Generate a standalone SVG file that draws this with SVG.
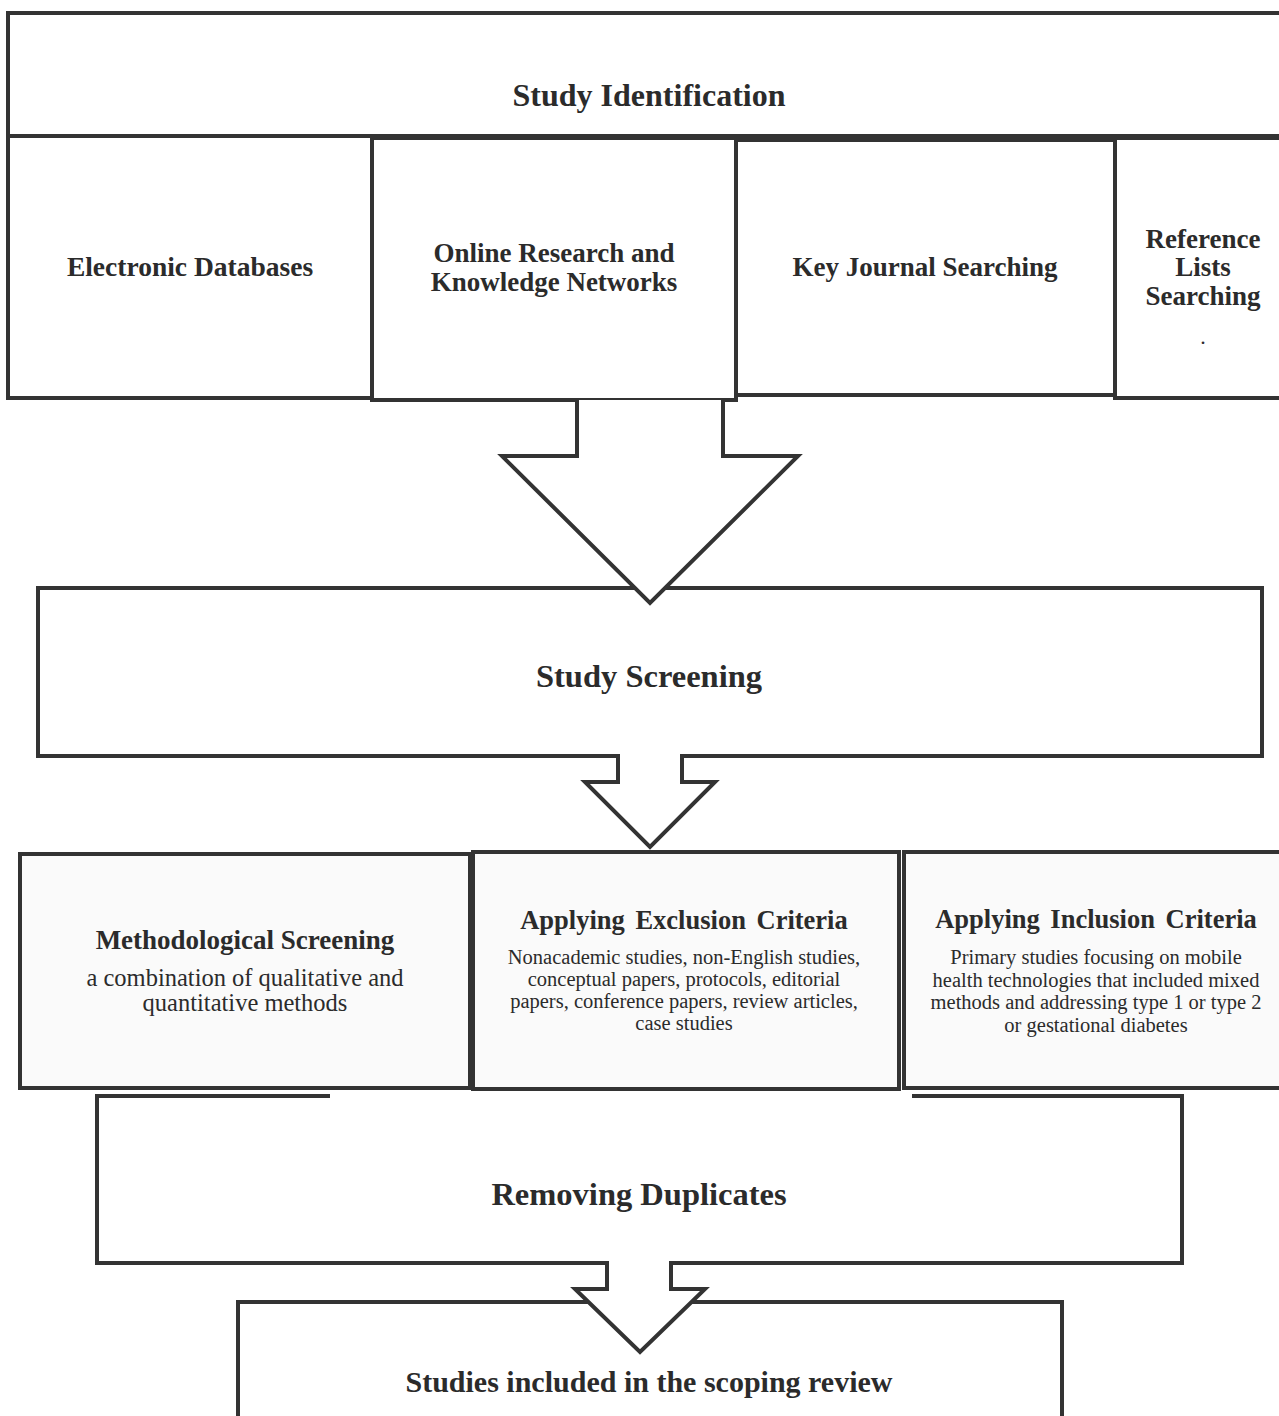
<svg xmlns="http://www.w3.org/2000/svg" width="1279" height="1416" viewBox="0 0 1279 1416">
<style>
.box{fill:#fff;stroke:#333;stroke-width:4}
.gbox{fill:#fafafa;stroke:#333;stroke-width:4}
.edge{fill:none;stroke:#333;stroke-width:4;stroke-linecap:square}
.arr{fill:#fff;stroke:#333;stroke-width:4;stroke-linejoin:miter;stroke-linecap:square}
text{font-family:"Liberation Serif","Times New Roman",serif;fill:#2b2b2b;text-anchor:middle}
.b{font-weight:bold}
.s{font-size:20.5px}
</style>
<rect width="1279" height="1416" fill="#fff"/>

<g id="study-identification">
<rect class="box" x="8" y="13" width="1300" height="123"/>
<text class="b" x="649" y="106" font-size="32">Study Identification</text>
</g>
<g id="electronic-databases">
<rect class="box" x="8" y="136" width="364" height="262"/>
<text class="b" x="190" y="276" font-size="27.5">Electronic Databases</text>
</g>
<g id="online-research">
<rect class="box" x="372" y="138" width="364" height="262"/>
<text class="b" x="554" y="262" font-size="27">Online Research and</text>
<text class="b" x="554" y="291" font-size="27">Knowledge Networks</text>
</g>
<g id="key-journal">
<rect class="box" x="736" y="140" width="379" height="255"/>
<text class="b" x="925" y="276" font-size="27">Key Journal Searching</text>
</g>
<g id="reference-lists">
<rect class="box" x="1115" y="138" width="200" height="260"/>
<text class="b" x="1203" y="248" font-size="27">Reference</text>
<text class="b" x="1203" y="276" font-size="27">Lists</text>
<text class="b" x="1203" y="305" font-size="27">Searching</text>
<text x="1203" y="344" font-size="22">.</text>
</g>

<g id="study-screening">
<rect x="38" y="588" width="1224" height="168" fill="#fff"/>
<path class="edge" d="M618 756 H38 V588 H1262 V756 H682"/>
<text class="b" x="649" y="687" font-size="32.5">Study Screening</text>
</g>

<g id="methodological-screening">
<rect class="gbox" x="20" y="854" width="450" height="234"/>
<text class="b" x="245" y="949" font-size="27">Methodological Screening</text>
<text x="245" y="986" font-size="24.5">a combination of qualitative  and</text>
<text x="245" y="1011" font-size="24.5">quantitative  methods</text>
</g>
<g id="exclusion-criteria">
<rect class="gbox" x="473" y="852" width="426" height="237"/>
<text class="b" x="684" y="929" font-size="26.5" word-spacing="4">Applying Exclusion Criteria</text>
<text class="s" x="684" y="964">Nonacademic studies, non-English studies,</text>
<text class="s" x="684" y="986">conceptual papers, protocols, editorial</text>
<text class="s" x="684" y="1008">papers, conference papers, review articles,</text>
<text class="s" x="684" y="1030">case studies</text>
</g>
<g id="inclusion-criteria">
<rect class="gbox" x="904" y="852" width="400" height="236"/>
<text class="b" x="1096" y="928" font-size="26.5" word-spacing="4">Applying Inclusion Criteria</text>
<text class="s" x="1096" y="964">Primary studies focusing on mobile</text>
<text class="s" x="1096" y="987">health technologies that included mixed</text>
<text class="s" x="1096" y="1009">methods and addressing type 1 or type 2</text>
<text class="s" x="1096" y="1032">or gestational diabetes</text>
</g>

<g id="removing-duplicates">
<rect x="97" y="1096" width="1085" height="167" fill="#fff"/>
<path class="edge" d="M328 1096 H97 V1263 H607 M671 1263 H1182 V1096 H914"/>
<text class="b" x="639" y="1205" font-size="32.5">Removing Duplicates</text>
</g>

<g id="studies-included">
<rect class="box" x="238" y="1302" width="824" height="140"/>
<text class="b" x="649" y="1392" font-size="30">Studies included in the scoping review</text>
</g>

<g id="connectors">
<polyline class="arr" points="577,400 577,456 502,456 650,603 798,456 723,456 723,400"/>
<polyline class="arr" points="618,756 618,782 585,782 650,847 715,782 682,782 682,756"/>
<polyline class="arr" points="607,1263 607,1289 575,1289 640,1352 705,1289 671,1289 671,1263"/>
</g>
</svg>
